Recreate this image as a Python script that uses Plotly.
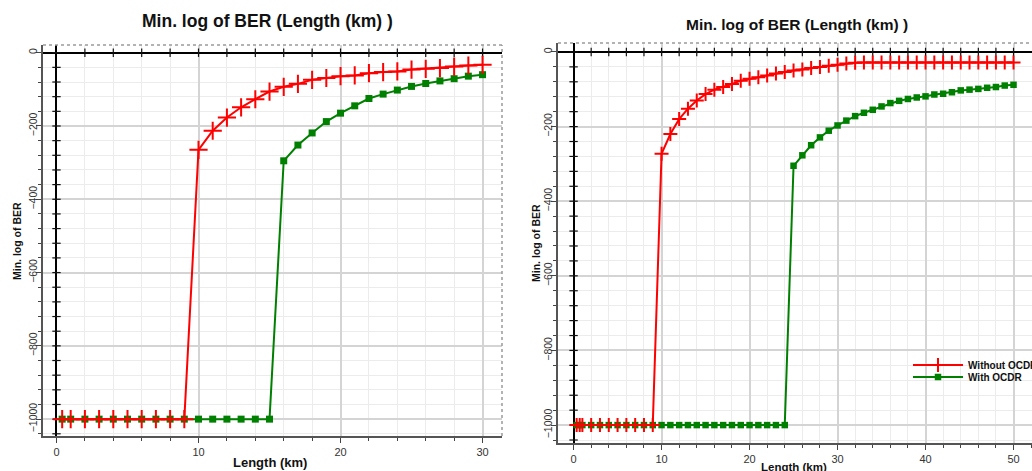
import numpy as np
import plotly.graph_objects as go

# ---------------- data ----------------
# Left panel
left_red_x = [0.4, 1, 2, 3, 4, 5, 6, 7, 8, 9, 10, 11, 12, 13, 14, 15, 16, 17, 18, 19, 20,
              21, 22, 23, 24, 25, 26, 27, 28, 29, 30]
left_red_y = [-1000, -1000, -1000, -1000, -1000, -1000, -1000, -1000, -1000, -1000,
              -265, -213, -177, -149, -127, -106, -93, -85, -74, -69, -64,
              -62, -56, -53, -51, -46, -44, -42, -38, -35, -33]
left_green_x = [0.4, 1, 2, 3, 4, 5, 6, 7, 8, 9, 10, 11, 12, 13, 14, 15, 16, 17, 18, 19, 20,
                21, 22, 23, 24, 25, 26, 27, 28, 29, 30]
left_green_y = [-1000, -1000, -1000, -1000, -1000, -1000, -1000, -1000, -1000, -1000,
                -1000, -1000, -1000, -1000, -1000, -1000,
                -295, -252, -219, -188, -165, -145, -125, -113, -102, -92, -84, -77, -71, -64, -60]

# Right panel
right_red_x = [0.35, 0.7, 1, 2, 3, 4, 5, 6, 7, 8, 9, 10, 11, 12, 13, 14, 15, 16, 17, 18, 19, 20,
               21, 22, 23, 24, 25, 26, 27, 28, 29, 30, 31, 32, 33, 34, 35, 36, 37, 38, 39, 40,
               41, 42, 43, 44, 45, 46, 47, 48, 49, 50]
right_red_y = [-1000, -1000, -1000, -1000, -1000, -1000, -1000, -1000, -1000, -1000, -1000,
               -273, -220, -180, -152, -130, -113, -101, -94, -86, -77, -72,
               -68, -63, -58, -54, -50, -47, -43, -40, -37, -34, -31, -29, -28, -28, -28,
               -28, -28, -28, -28, -28, -28, -28, -28, -28, -28, -28, -28, -28, -28, -28]
right_green_x = [0.35, 0.7, 1, 2, 3, 4, 5, 6, 7, 8, 9, 10, 11, 12, 13, 14, 15, 16, 17, 18, 19, 20,
                 21, 22, 23, 24, 25, 26, 27, 28, 29, 30, 31, 32, 33, 34, 35, 36, 37, 38, 39, 40,
                 41, 42, 43, 44, 45, 46, 47, 48, 49, 50]
right_green_y = [-1000, -1000, -1000, -1000, -1000, -1000, -1000, -1000, -1000, -1000, -1000,
                 -1000, -1000, -1000, -1000, -1000, -1000, -1000, -1000, -1000, -1000, -1000,
                 -1000, -1000, -1000, -1000,
                 -305, -277, -250, -229, -211, -197, -184, -172, -163, -155, -146, -137,
                 -131, -126, -122, -119, -114, -112, -108, -103, -101, -99, -96, -94, -90, -88]

series_names = ["Without OCDR", "With OCDR"]
chart_title = "Min. log of BER (Length (km) )"
x_title = "Length (km)"
y_title = "Min. log of BER"

# ---------------- style ----------------
FONT = "Liberation Sans, Arial, sans-serif"
RED = "#ff0000"
GREEN = "#008000"
W, H = 1032, 471

fig = go.Figure()


def zero_ticks(xa, ya, xmax):
    yt = np.arange(-1040, 1, 40)
    fig.add_trace(go.Scatter(x=np.zeros(len(yt)), y=yt, mode="markers",
                             marker=dict(symbol="line-ew", size=6, line=dict(color="#111", width=1.2)),
                             xaxis=xa, yaxis=ya, showlegend=False, hoverinfo="skip"))
    xt = np.arange(2, xmax + 1, 2)
    fig.add_trace(go.Scatter(x=xt, y=np.zeros(len(xt)), mode="markers",
                             marker=dict(symbol="line-ns", size=6, line=dict(color="#111", width=1.2)),
                             xaxis=xa, yaxis=ya, showlegend=False, hoverinfo="skip"))


zero_ticks("x", "y", 30)
zero_ticks("x2", "y2", 50)

# left panel series
fig.add_trace(go.Scatter(x=left_green_x, y=left_green_y, mode="lines+markers", name=series_names[1],
                         line=dict(color=GREEN, width=2),
                         marker=dict(symbol="square", size=7, color=GREEN),
                         xaxis="x", yaxis="y", showlegend=False))
fig.add_trace(go.Scatter(x=left_red_x, y=left_red_y, mode="lines+markers", name=series_names[0],
                         line=dict(color=RED, width=2),
                         marker=dict(symbol="cross-thin", size=13, color=RED, line=dict(color=RED, width=2)),
                         xaxis="x", yaxis="y", showlegend=False))

# right panel series
fig.add_trace(go.Scatter(x=right_green_x, y=right_green_y, mode="lines+markers", name=series_names[1],
                         line=dict(color=GREEN, width=2),
                         marker=dict(symbol="square", size=6.5, color=GREEN),
                         xaxis="x2", yaxis="y2", legend="legend2"))
fig.add_trace(go.Scatter(x=right_red_x, y=right_red_y, mode="lines+markers", name=series_names[0],
                         line=dict(color=RED, width=2),
                         marker=dict(symbol="cross-thin", size=10, color=RED, line=dict(color=RED, width=2)),
                         xaxis="x2", yaxis="y2", legend="legend"))


def xaxis_cfg(domain, rng, anchor):
    return dict(domain=domain, range=rng, anchor=anchor, dtick=10, tick0=0,
                showline=True, linecolor="#555", linewidth=1.5, mirror=False,
                ticks="outside", ticklen=5, tickcolor="#444", tickwidth=1,
                showgrid=True, gridcolor="#d4d4d4", gridwidth=1.5,
                zeroline=True, zerolinecolor="#000", zerolinewidth=1.5,
                tickfont=dict(family=FONT, size=11, color="#333"),
                minor=dict(dtick=2, tick0=0, ticks="outside", ticklen=3, tickcolor="#444",
                           showgrid=True, gridcolor="#ececec", gridwidth=1),
                fixedrange=True)


def yaxis_cfg(domain, rng, anchor):
    return dict(domain=domain, range=rng, anchor=anchor, dtick=200, tick0=0,
                showline=True, linecolor="#555", linewidth=1.5, mirror=False,
                ticks="outside", ticklen=5, tickcolor="#444", tickwidth=1,
                showgrid=True, gridcolor="#d4d4d4", gridwidth=1.5,
                zeroline=True, zerolinecolor="#000", zerolinewidth=1.5,
                tickangle=-90, ticklabelstandoff=-5,
                tickfont=dict(family=FONT, size=10.5, color="#333"),
                minor=dict(dtick=40, tick0=0, ticks="outside", ticklen=3, tickcolor="#444",
                           showgrid=True, gridcolor="#ececec", gridwidth=1),
                fixedrange=True)


fig.update_layout(
    width=W, height=H,
    margin=dict(l=0, r=0, t=0, b=0, autoexpand=False),
    paper_bgcolor="white", plot_bgcolor="white",
    xaxis=xaxis_cfg([43 / W, 502 / W], [-0.95, 31.37], "y"),
    yaxis=yaxis_cfg([35 / H, 426 / H], [-1046, 21], "x"),
    xaxis2=xaxis_cfg([558 / W, 1.0], [-1.77, 52.1], "y2"),
    yaxis2=yaxis_cfg([28 / H, 428 / H], [-1048, 24], "x2"),
    legend=dict(x=908 / W, y=1 - 365 / H, xanchor="left", yanchor="middle",
                bgcolor="rgba(0,0,0,0)", borderwidth=0, itemwidth=50,
                font=dict(family=FONT, size=10, color="#111", weight="bold")),
    legend2=dict(x=908 / W, y=1 - 377 / H, xanchor="left", yanchor="middle",
                 bgcolor="rgba(0,0,0,0)", borderwidth=0, itemwidth=50,
                 font=dict(family=FONT, size=10, color="#111", weight="bold")),
    showlegend=True,
)

# frame (top / right dotted borders)
for xr, yr, sides in [("x domain", "y domain", ["top", "right"]), ("x2 domain", "y2 domain", ["top"])]:
    for s in sides:
        if s == "top":
            fig.add_shape(type="line", xref=xr, yref=yr, x0=0, x1=1, y0=1, y1=1,
                          line=dict(color="#9a9a9a", width=1.5, dash="dot"), layer="above")
        else:
            fig.add_shape(type="line", xref=xr, yref=yr, x0=1, x1=1, y0=0, y1=1,
                          line=dict(color="#9a9a9a", width=1.5, dash="dot"), layer="above")

# titles and axis titles
ann = [
    dict(text=chart_title, x=267.5 / W, y=1 - 21 / H, size=17.5),
    dict(text=chart_title, x=797 / W, y=1 - 25 / H, size=15.5),
    dict(text=x_title, x=270 / W, y=1 - 462 / H, size=13),
    dict(text=x_title, x=794 / W, y=1 - 467 / H, size=11.5),
]
for a in ann:
    fig.add_annotation(text=a["text"], x=a["x"], y=a["y"], xref="paper", yref="paper",
                       xanchor="center", yanchor="middle", showarrow=False,
                       font=dict(family=FONT, size=a["size"], color="#111", weight="bold"))
for xpx, ypx in [(17, 241), (536, 243)]:
    fig.add_annotation(text=y_title, x=xpx / W, y=1 - ypx / H, xref="paper", yref="paper",
                       xanchor="center", yanchor="middle", showarrow=False, textangle=-90,
                       font=dict(family=FONT, size=10.5, color="#111", weight="bold"))

fig.write_html("out.html", config={"displayModeBar": False},
               post_script="document.body.style.margin='0';document.body.style.overflow='hidden';")
